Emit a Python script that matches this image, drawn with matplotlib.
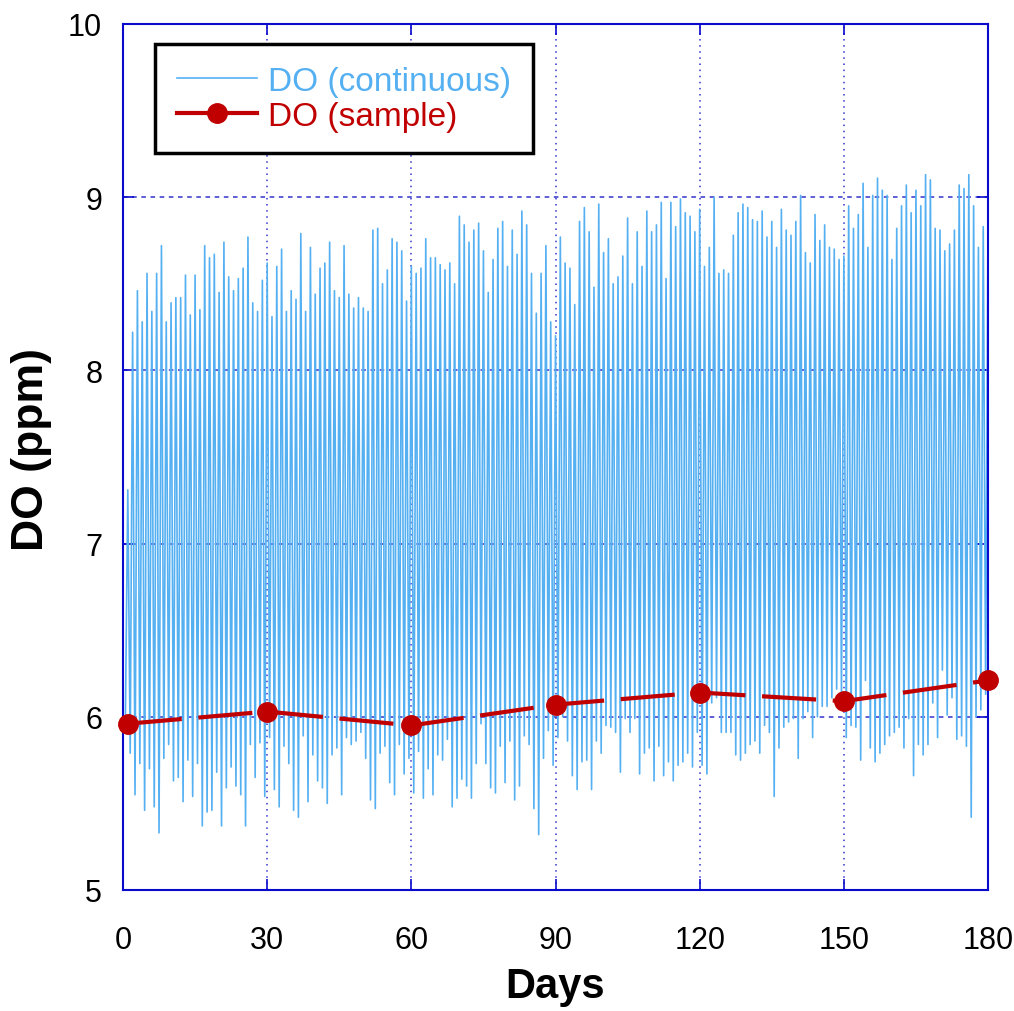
import matplotlib

matplotlib.use("Agg")

import matplotlib.pyplot as plt
import numpy as np
from matplotlib.lines import Line2D

# daily maxima of the continuous DO record (ppm), one per day
peak_do = [
    7.31, 8.22, 8.46, 8.28, 8.56, 8.34, 8.56, 8.72, 8.28, 8.39,
    8.42, 8.42, 8.55, 8.32, 8.55, 8.35, 8.72, 8.65, 8.67, 8.45,
    8.74, 8.54, 8.46, 8.53, 8.59, 8.77, 8.39, 8.34, 8.52, 8.62,
    8.31, 8.60, 8.70, 8.34, 8.46, 8.41, 8.79, 8.34, 8.71, 8.44,
    8.59, 8.62, 8.74, 8.46, 8.42, 8.72, 8.44, 8.36, 8.42, 8.36,
    8.34, 8.81, 8.82, 8.50, 8.58, 8.76, 8.74, 8.69, 8.40, 8.60,
    8.56, 8.59, 8.76, 8.65, 8.65, 8.61, 8.58, 8.62, 8.50, 8.89,
    8.84, 8.74, 8.81, 8.85, 8.69, 8.45, 8.64, 8.82, 8.86, 8.60,
    8.81, 8.67, 8.92, 8.84, 8.56, 8.33, 8.56, 8.72, 8.28, 8.20,
    8.77, 8.62, 8.59, 8.38, 8.86, 8.94, 8.80, 8.48, 8.96, 8.68,
    8.76, 8.50, 8.54, 8.66, 8.88, 8.50, 8.80, 8.60, 8.92, 8.80,
    8.84, 8.97, 8.53, 8.97, 8.83, 8.99, 8.91, 8.89, 8.80, 8.93,
    8.60, 8.71, 9.00, 8.56, 8.58, 8.56, 8.78, 8.91, 8.96, 8.94,
    8.87, 8.86, 8.92, 8.77, 8.86, 8.71, 8.93, 8.81, 8.78, 8.86,
    9.01, 8.68, 8.62, 8.90, 8.75, 8.84, 8.71, 8.70, 8.64, 8.66,
    8.95, 8.82, 8.90, 9.08, 8.71, 9.01, 9.11, 9.04, 9.01, 8.64,
    8.82, 8.95, 9.07, 8.91, 9.04, 8.95, 9.13, 9.10, 8.82, 8.81,
    8.69, 8.73, 8.81, 9.07, 9.05, 9.13, 8.95, 8.71, 8.83, 8.90,
]

# daily minima of the continuous DO record (ppm), one per day
trough_do = [
    6.00, 5.79, 5.55, 5.73, 5.46, 5.70, 5.48, 5.33, 5.76, 5.84,
    5.63, 5.65, 5.51, 5.75, 5.54, 5.73, 5.37, 5.45, 5.46, 5.68,
    5.37, 5.59, 5.71, 5.60, 5.55, 5.37, 5.84, 5.65, 5.85, 5.54,
    5.88, 5.58, 5.48, 5.83, 5.73, 5.46, 5.42, 5.89, 5.51, 5.78,
    5.63, 5.59, 5.50, 5.78, 5.82, 5.55, 5.88, 5.84, 5.86, 5.91,
    5.76, 5.52, 5.47, 5.79, 5.83, 5.62, 5.55, 5.84, 5.67, 5.76,
    5.56, 5.80, 5.53, 5.70, 5.55, 5.78, 5.75, 5.87, 5.48, 5.53,
    5.64, 5.60, 5.53, 5.73, 5.96, 5.73, 5.59, 5.56, 5.83, 5.62,
    5.86, 5.52, 5.60, 5.89, 5.84, 5.47, 5.32, 5.76, 5.92, 5.72,
    5.88, 6.00, 5.86, 5.66, 5.58, 5.74, 5.75, 5.58, 5.86, 5.79,
    5.95, 5.94, 5.91, 5.68, 5.99, 5.91, 5.99, 5.67, 5.79, 5.82,
    5.63, 5.83, 5.66, 5.74, 5.63, 5.72, 5.74, 5.79, 5.71, 5.91,
    5.72, 5.67, 6.08, 6.11, 5.91, 5.91, 5.91, 5.78, 5.75, 5.79,
    5.84, 5.86, 5.79, 5.95, 5.91, 5.54, 5.82, 5.94, 5.97, 5.99,
    5.76, 5.99, 6.03, 5.88, 6.00, 6.06, 6.06, 6.11, 6.16, 6.12,
    5.88, 5.95, 5.94, 5.75, 6.21, 5.82, 5.74, 5.79, 5.84, 5.89,
    5.91, 5.94, 5.82, 5.99, 5.66, 5.84, 5.78, 5.84, 6.08, 5.88,
    6.27, 6.01, 6.11, 5.87, 5.89, 5.83, 5.42, 6.00, 6.04, 6.13,
]

sample_days = [1, 30, 60, 90, 120, 150, 180]
sample_do = [5.96, 6.03, 5.95, 6.07, 6.14, 6.09, 6.21]

BLUE_LINE = "#55b0f2"
RED = "#c00000"
FRAME = "#0a0acc"

# interleave: trough in the early morning, peak in the afternoon
n_days = len(peak_do)
t = np.empty(2 * n_days)
y = np.empty(2 * n_days)
t[0::2] = np.arange(n_days) + 0.5
t[1::2] = np.arange(n_days) + 1.0
y[0::2] = trough_do
y[1::2] = peak_do

plt.rcParams["font.family"] = ["Liberation Sans", "DejaVu Sans"]

fig = plt.figure(figsize=(10.14, 10.12), dpi=100)
ax = fig.add_axes([0.1213, 0.1196, 0.8531, 0.8557])

ax.plot(t, y, color=BLUE_LINE, lw=1.2, zorder=2)
ax.plot(sample_days, sample_do, color=RED, lw=3, dashes=(13, 4),
        marker="o", ms=14, zorder=4, clip_on=False)

ax.set_xlim(0, 180)
ax.set_ylim(5, 10)
ax.set_xticks(range(0, 181, 30))
ax.set_yticks(range(5, 11))

ax.xaxis.grid(True, color="#3333cc", ls=(0, (1, 3)), lw=1.1)
ax.yaxis.grid(True, color="#3333cc", ls=(0, (3, 3)), lw=1.1)
ax.set_axisbelow(True)

for sp in ax.spines.values():
    sp.set_color(FRAME)
    sp.set_linewidth(1.5)
ax.tick_params(direction="in", length=8, width=1.2, color=FRAME,
               top=True, right=True, labelsize=22)
ax.tick_params(axis="x", pad=25)
ax.tick_params(axis="y", pad=15)

ax.set_xlabel("Days", fontsize=30, fontweight="bold")
ax.xaxis.set_label_coords(0.5, -0.088)
ax.set_ylabel("DO (ppm)", fontsize=32, fontweight="bold")
ax.yaxis.set_label_coords(-0.082, 0.51)

# legend handles drawn solid, as in the original figure
handles = [
    Line2D([], [], color=BLUE_LINE, lw=1.2),
    Line2D([], [], color=RED, lw=3, marker="o", ms=14),
]
leg = ax.legend(handles, ["DO (continuous)", "DO (sample)"],
                loc="upper left", bbox_to_anchor=(0.037, 0.977),
                borderaxespad=0, fontsize=24, labelcolor="linecolor",
                fancybox=False, framealpha=1, edgecolor="black",
                handlelength=2.4, borderpad=0.65, labelspacing=0.12,
                handletextpad=0.35)
leg.get_frame().set_linewidth(2.5)

fig.savefig("out.png", dpi=100, facecolor="white")
